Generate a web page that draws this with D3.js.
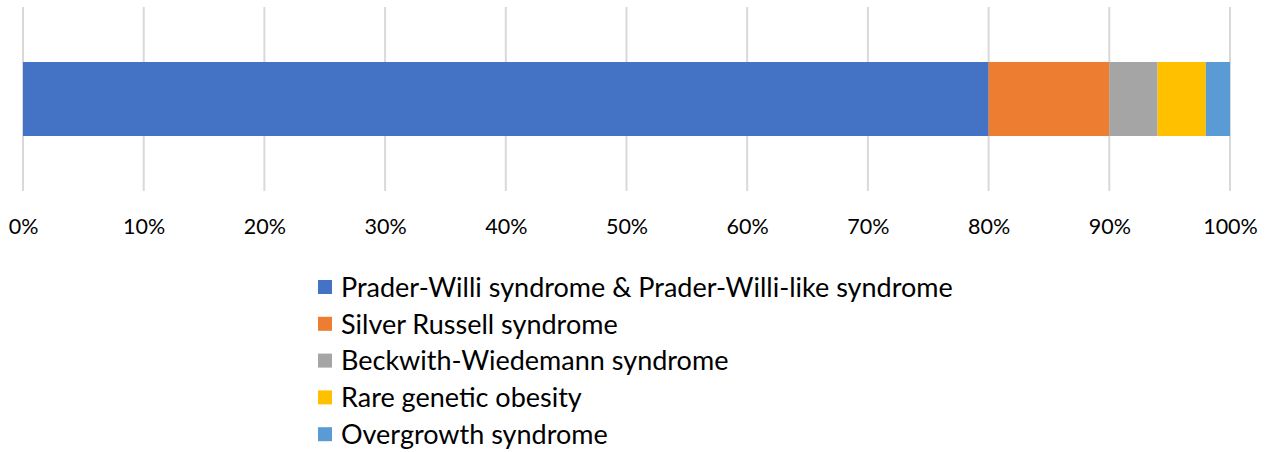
<!DOCTYPE html>
<html>
<head>
<meta charset="utf-8">
<script src="https://cdn.jsdelivr.net/npm/d3@7"></script>
<style>
  body { margin: 0; background: #fff; }
  svg { display: block; font-family: Lato, "Open Sans", sans-serif; }
</style>
</head>
<body>
<div class="chart"></div>
<script>
var width = 1273,
    height = 452;

// data
var categories = ["Prader-Willi syndrome & Prader-Willi-like syndrome",
    "Silver Russell syndrome",
    "Beckwith-Wiedemann syndrome",
    "Rare genetic obesity",
    "Overgrowth syndrome"];
var values = [80, 10, 4, 4, 2];
var colors = ["#4472C4", "#ED7D31", "#A5A5A5", "#FFC000", "#5B9BD5"];
var tickValues = [0, 10, 20, 30, 40, 50, 60, 70, 80, 90, 100];

var svg = d3.select(".chart").append("svg")
    .attr("width", width)
    .attr("height", height);

var x = d3.scaleLinear()
    .domain([0, 100])
    .range([23, 1230]);

// grid lines
svg.selectAll(".grid")
    .data(tickValues)
    .enter().append("line")
    .attr("x1", function(d) { return x(d); })
    .attr("x2", function(d) { return x(d); })
    .attr("y1", 7)
    .attr("y2", 191)
    .style("stroke", "#d9d9d9")
    .style("stroke-width", 2);

// stacked segments
var stack = [];
var acc = 0;
for (var i = 0; i < values.length; i++) {
    stack.push({ name: categories[i], x0: acc, x1: acc + values[i], color: colors[i] });
    acc += values[i];
}

svg.selectAll(".seg")
    .data(stack)
    .enter().append("rect")
    .attr("x", function(d) { return x(d.x0); })
    .attr("width", function(d) { return x(d.x1) - x(d.x0); })
    .attr("y", 62)
    .attr("height", 74)
    .style("fill", function(d) { return d.color; });

// axis labels
var axis = d3.axisBottom(x)
    .tickValues(tickValues)
    .tickFormat(function(d) { return d + "%"; })
    .tickSize(0)
    .tickPadding(0);

var g = svg.append("g")
    .attr("transform", "translate(0,219)")
    .call(axis);
g.select(".domain").remove();
g.selectAll("text")
    .style("font-family", "Lato, sans-serif")
    .style("font-size", "21.5px")
    .style("fill", "#000");

// legend
var legend = svg.selectAll(".legend")
    .data(categories)
    .enter().append("g")
    .attr("transform", function(d, i) { return "translate(318," + (287 + i * 36.8) + ")"; });

legend.append("rect")
    .attr("x", 0)
    .attr("y", -7)
    .attr("width", 14)
    .attr("height", 14)
    .style("fill", function(d, i) { return colors[i]; });

legend.append("text")
    .attr("x", 23)
    .attr("y", 0)
    .attr("dy", "0.36em")
    .style("font-size", "27px")
    .style("fill", "#000")
    .text(function(d) { return d; });
</script>
</body>
</html>
